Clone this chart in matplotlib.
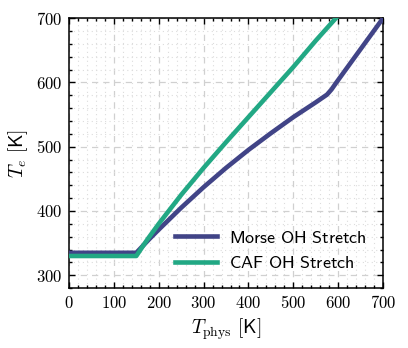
import matplotlib
matplotlib.use("Agg")
import matplotlib.pyplot as plt
import matplotlib.ticker as ticker

plt.rcParams['mathtext.fontset'] = 'cm'
plt.rcParams['font.family'] = 'serif'
plt.rcParams['font.serif'] = ['DejaVu Serif']

# values
t_phys_morse = [0, 150, 165, 180, 200, 225, 250, 300, 350, 400, 450, 500, 550, 575, 585, 595, 700]
t_e_morse = [335, 335, 346, 357, 371, 388, 405, 437, 467, 495, 521, 546, 569, 581, 589, 599, 700]

t_phys_caf = [0, 150, 175, 200, 250, 300, 350, 400, 450, 500, 550, 600]
t_e_caf = [330, 330, 356, 380, 425, 467, 507, 546, 585, 624, 665, 704]

labels = [r"$\mathsf{Morse\ OH\ Stretch}$", r"$\mathsf{CAF\ OH\ Stretch}$"]
colors = ['#414487', '#22a884']

fig = plt.figure(figsize=(4.08, 3.48), dpi=100)
ax = fig.add_axes([0.169, 0.172, 0.770, 0.776])

ax.plot(t_phys_morse, t_e_morse, color=colors[0], lw=3.3, label=labels[0], zorder=3)
ax.plot(t_phys_caf, t_e_caf, color=colors[1], lw=3.3, label=labels[1], zorder=3)

ax.set_xlim(0, 700)
ax.set_ylim(280, 700)
ax.xaxis.set_major_locator(ticker.MultipleLocator(100))
ax.xaxis.set_minor_locator(ticker.MultipleLocator(20))
ax.yaxis.set_major_locator(ticker.MultipleLocator(100))
ax.yaxis.set_minor_locator(ticker.MultipleLocator(20))
fmt = ticker.FuncFormatter(lambda v, p: r"$%d$" % v)
ax.xaxis.set_major_formatter(fmt)
ax.yaxis.set_major_formatter(fmt)

ax.tick_params(which='both', direction='in', top=True, right=True, labelsize=12, width=1.0)
ax.tick_params(which='major', length=4.5, pad=5)
ax.tick_params(which='minor', length=2.3)
for s in ax.spines.values():
    s.set_linewidth(1.1)

ax.grid(which='major', ls=(0, (5, 4)), color='#d0d0d0', lw=0.9)
ax.grid(which='minor', ls=(0, (1, 3)), color='#dcdcdc', lw=0.8)
ax.set_axisbelow(True)

ax.set_xlabel(r"$T_{\rm phys}$ $\mathsf{[K]}$", fontsize=14, labelpad=3)
ax.set_ylabel(r"$T_e$ $\mathsf{[K]}$", fontsize=14, labelpad=4)

ax.legend(loc='lower right', frameon=False, fontsize=13, handlelength=2.3,
          handletextpad=0.7, labelspacing=0.4, borderaxespad=0.5)

fig.savefig("out.png", dpi=100)
